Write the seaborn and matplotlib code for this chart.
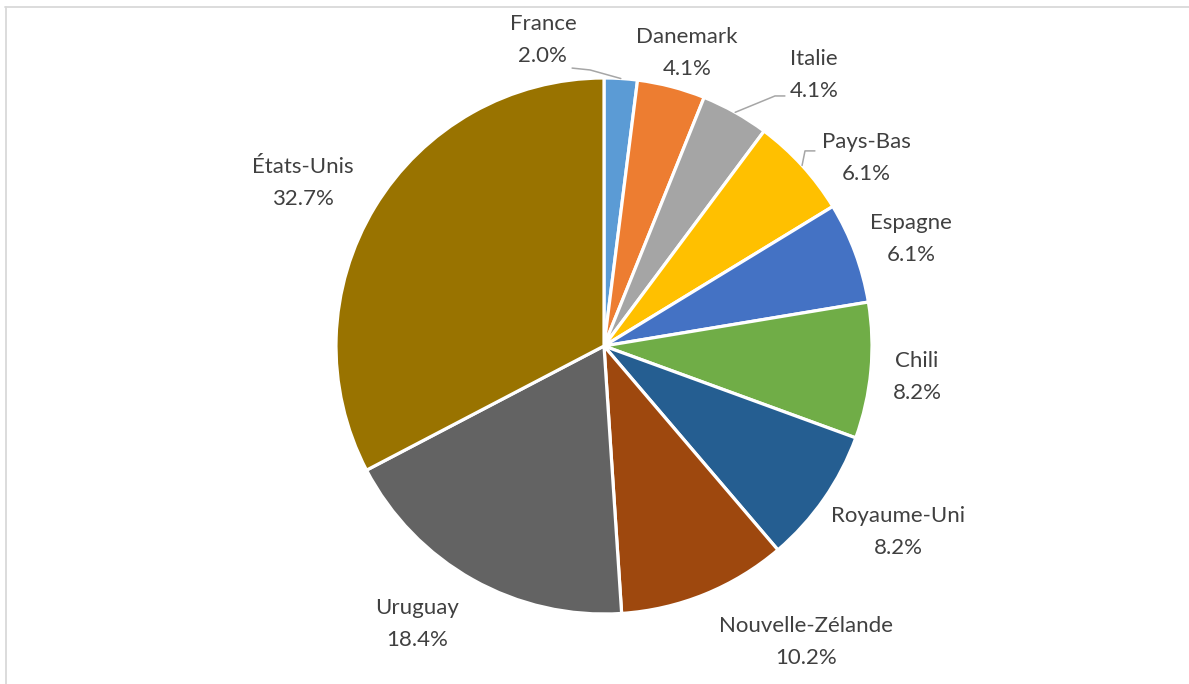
import matplotlib
matplotlib.use("Agg")
import matplotlib.pyplot as plt
import seaborn as sns
import numpy as np

# Share of entries by country (percent)
countries = ["France", "Danemark", "Italie", "Pays-Bas", "Espagne", "Chili",
             "Royaume-Uni", "Nouvelle-Zélande", "Uruguay", "États-Unis"]
shares = [2.0, 4.1, 4.1, 6.1, 6.1, 8.2, 8.2, 10.2, 18.4, 32.7]
colors = ["#5B9BD5", "#ED7D31", "#A5A5A5", "#FFC000", "#4472C4", "#70AD47",
          "#255E91", "#9E480E", "#636363", "#997300"]

# Label anchor points (in pie-radius units) and optional leader-line elbows
label_pos = {
    "France": (-0.228, 1.142),
    "Danemark": (0.310, 1.093),
    "Italie": (0.784, 1.011),
    "Pays-Bas": (0.978, 0.701),
    "Espagne": (1.146, 0.399),
    "Chili": (1.168, -0.116),
    "Royaume-Uni": (1.097, -0.694),
    "Nouvelle-Zélande": (0.754, -1.104),
    "Uruguay": (-0.698, -1.037),
    "États-Unis": (-1.123, 0.608),
}
leaders = {
    "France": [(-0.052, 1.030), (-0.119, 1.037)],
    "Italie": [(0.638, 0.933), (0.675, 0.933)],
    "Pays-Bas": [(0.750, 0.728), (0.787, 0.728)],
}

sns.set_theme(style="white")
plt.rcParams["font.family"] = ["Lato", "DejaVu Sans"]

W, H = 1189, 684
fig = plt.figure(figsize=(W / 100, H / 100), dpi=100)
cx, cy, R = 604, 346, 268
ax = fig.add_axes([(cx - R) / W, (H - cy - R) / H, 2 * R / W, 2 * R / H])

palette = sns.color_palette(colors)
wedges, _ = ax.pie(shares, colors=palette, startangle=90, counterclock=False,
                   radius=1.0, wedgeprops=dict(edgecolor="white", linewidth=2.3))
ax.set_xlim(-1, 1)
ax.set_ylim(-1, 1)
ax.set_aspect("equal")
ax.axis("off")

text_color = "#404040"
for name, val, w in zip(countries, shares, wedges):
    x, y = label_pos[name]
    ax.text(x, y, f"{name}\n{val:.1f}%", ha="center", va="center",
            fontsize=16, color=text_color, linespacing=1.75, clip_on=False)
    if name in leaders:
        mid = np.deg2rad((w.theta1 + w.theta2) / 2)
        pts = [(np.cos(mid), np.sin(mid))] + leaders[name]
        xs, ys = zip(*pts)
        ax.plot(xs, ys, color="#A6A6A6", linewidth=1.1, clip_on=False)

# Chart-area frame (top and left edges)
fig.add_artist(plt.Line2D([5 / W, 1], [1 - 6.5 / H, 1 - 6.5 / H],
                          transform=fig.transFigure, color="#D9D9D9", linewidth=1.3))
fig.add_artist(plt.Line2D([5.5 / W, 5.5 / W], [0, 1 - 6.5 / H],
                          transform=fig.transFigure, color="#D9D9D9", linewidth=1.3))

fig.savefig("out.png", dpi=100, facecolor="white")
